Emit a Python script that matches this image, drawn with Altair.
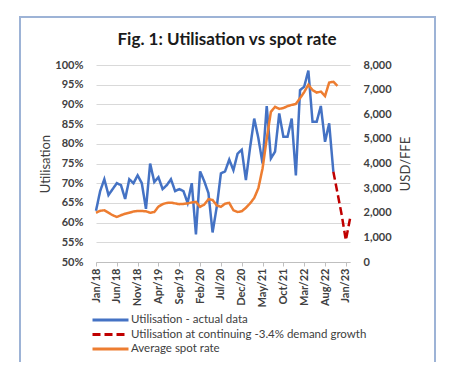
import altair as alt
import pandas as pd

chart_title = "Fig. 1: Utilisation vs spot rate"

tick_labels = ["Jan/18", "Jun/18", "Nov/18", "Apr/19", "Sep/19", "Feb/20", "Jul/20",
               "Dec/20", "May/21", "Oct/21", "Mar/22", "Aug/22", "Jan/23"]

series_names = ["Utilisation - actual data",
                "Utilisation at continuing -3.4% demand growth",
                "Average spot rate"]

# Utilisation (%), monthly from Jan/18
util_actual = [63, 68, 71, 67, 68.5, 70, 69.5, 66, 71, 70, 72, 70, 63.5, 75, 70.3, 71.5,
               68.5, 69.5, 71, 68, 68.5, 68, 65, 70, 57, 73, 70.5, 67.5, 57.5, 64, 72.5,
               73, 76, 73.3, 77.5, 78.5, 70.8, 79, 86.4, 81.4, 75, 89.6, 76.3, 78, 87.7,
               81.8, 81.8, 86.4, 72, 93.6, 94.5, 98.6, 85.6, 85.6, 89.6, 80.5, 85.2, 72.9]
proj_start = 57
util_projection = [72.9, 67.5, 62, 55.5, 61]

# Average spot rate USD/FFE, monthly from Jan/18
spot_rate = [2000, 2080, 2100, 2000, 1900, 1830, 1900, 1960, 2000, 2050, 2070, 2070,
             2060, 2000, 2030, 2250, 2350, 2400, 2410, 2380, 2350, 2360, 2380, 2420,
             2440, 2240, 2330, 2550, 2520, 2300, 2240, 2370, 2400, 2100, 2030, 2060,
             2200, 2380, 2600, 3000, 3800, 5000, 6100, 6300, 6220, 6250, 6330, 6380,
             6420, 6650, 6900, 7200, 6980, 6880, 6920, 6740, 7290, 7320, 7150]

rows = []
for i, v in enumerate(util_actual):
    rows.append({"m": i, "v": v / 100, "s": series_names[0]})
for i, v in enumerate(util_projection):
    rows.append({"m": proj_start + i, "v": v / 100, "s": series_names[1]})
df_util = pd.DataFrame(rows)
df_spot = pd.DataFrame({"m": list(range(len(spot_rate))), "v": spot_rate,
                        "s": series_names[2]})

label_array = "[" + ",".join("'" + t + "'" for t in tick_labels) + "]"

x_enc = alt.X("m:Q",
              scale=alt.Scale(domain=[0, 61], nice=False, zero=False),
              axis=alt.Axis(values=list(range(0, 61, 5)),
                            labelExpr=label_array + "[round(datum.value/5)]",
                            title=None, grid=False, domainColor="#bfbfbf",
                            tickColor="#bfbfbf", tickSize=4, labelAngle=270,
                            labelPadding=2))

legend = alt.Legend(title=None, orient="none", legendX=-5, legendY=249,
                    symbolType="M-1,0H7", symbolSize=81, symbolStrokeWidth=3,
                    labelFontSize=11.5, labelOffset=28, rowPadding=2.5, padding=0,
                    labelColor="#404040", labelFont="Lato", labelLimit=400)

color_enc = alt.Color("s:N",
                      scale=alt.Scale(domain=series_names,
                                      range=["#4472C4", "#C00000", "#ED7D31"]),
                      legend=legend)
dash_enc = alt.StrokeDash("s:N",
                          scale=alt.Scale(domain=series_names,
                                          range=[[1, 0], [8, 4], [1, 0]]),
                          legend=legend)

util = alt.Chart(df_util).mark_line(strokeWidth=2.5).encode(
    x=x_enc,
    y=alt.Y("v:Q",
            scale=alt.Scale(domain=[0.5, 1.0], nice=False, zero=False),
            axis=alt.Axis(format=".0%", values=[0.5 + 0.05 * k for k in range(11)],
                          title="Utilisation", domain=False, ticks=False, labelPadding=13,
                          grid=True, gridColor="#d9d9d9", titleX=-51, titleY=98.5,
                          titleAngle=270, titleAlign="center", titleBaseline="middle")),
    color=color_enc,
    strokeDash=dash_enc,
    detail="s:N",
)

spot = alt.Chart(df_spot).mark_line(strokeWidth=2.5).encode(
    x=x_enc,
    y=alt.Y("v:Q",
            scale=alt.Scale(domain=[0, 8000], nice=False),
            axis=alt.Axis(format=",.0f", values=list(range(0, 8001, 1000)),
                          title="USD/FFE", orient="right", domain=False, ticks=False,
                          labelPadding=13, grid=False, titleX=55, titleY=98.5,
                          titleAngle=270, titleAlign="center", titleBaseline="middle")),
    color=color_enc,
    strokeDash=dash_enc,
)

frame = alt.Chart(alt.Data(values=[{"k": 1}])).mark_rect(
    fill="transparent", stroke="#9DB3D6", strokeWidth=2
).encode(x=alt.value(-76), x2=alt.value(339), y=alt.value(-48), y2=alt.value(299))

title = alt.Chart(alt.Data(values=[{"t": chart_title}])).mark_text(
    font="Lato", fontSize=17, fontWeight="bold", color="#1a1a1a",
    align="center", baseline="alphabetic"
).encode(text="t:N", x=alt.value(131), y=alt.value(-20))

chart = alt.layer(util, spot, frame, title).resolve_scale(
    y="independent"
).properties(
    width=254, height=197,
    padding={"left": 88, "top": 57, "right": 92, "bottom": 100},
    autosize=alt.AutoSizeParams(type="none"),
).configure_view(
    strokeWidth=0
).configure_axis(
    labelFont="Lato", titleFont="Lato", labelColor="#404040", titleColor="#404040",
    labelFontSize=11, titleFontSize=13, titleFontWeight="normal", labelFontWeight="bold"
)

chart.save("out.html", embed_options={"renderer": "svg", "actions": False})
